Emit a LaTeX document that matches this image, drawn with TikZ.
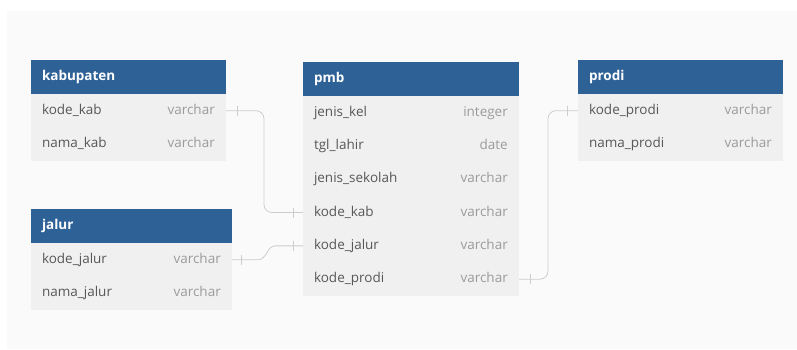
\documentclass[tikz,border=0pt]{standalone}
\usepackage{fontspec}
\setmainfont{Open Sans}
\usepackage{xcolor}
\usepackage{tikz}
\usetikzlibrary{calc,positioning}

\definecolor{headblue}{RGB}{46,98,151}
\definecolor{rowgray}{RGB}{240,240,240}
\definecolor{fieldgray}{RGB}{88,88,88}
\definecolor{typegray}{RGB}{155,155,155}
\definecolor{relgray}{RGB}{205,205,205}
\definecolor{canvas}{RGB}{250,250,250}

\newcommand{\erfont}{\fontsize{13.5}{16}\selectfont}

\tikzset{
    tablehead/.style={fill=headblue, text=white, font=\erfont\bfseries, anchor=north west,
        minimum height=34pt, inner xsep=11pt, inner ysep=0pt, outer sep=0pt, text height=10pt, text depth=3pt,
        text width=#1, align=left},
    field/.style={fill=rowgray, text=fieldgray, font=\erfont,
        minimum height=33.3pt, inner xsep=11pt, inner ysep=0pt, outer sep=0pt, text height=10pt, text depth=3pt,
        text width=#1, align=left},
    fieldtype/.style={text=typegray, font=\erfont, inner sep=0pt, text height=10pt, text depth=3pt},
    rel/.style={draw=relgray, line width=0.8pt},
}

\begin{document}
\begin{tikzpicture}[x=1pt, y=-1pt]
        \useasboundingbox (0,0) rectangle (797,349);
        \fill[canvas] (7,11) rectangle (797,349);

        % kabupaten
        \node [tablehead=173pt] (kab) at (31,60) {kabupaten};
        \node [field=173pt, below=0pt of kab] (kab-kode) {kode\_kab};
        \node [field=173pt, below=0pt of kab-kode] (kab-nama) {nama\_kab};
        \node [fieldtype, left=11pt of kab-kode.east] (kab-kode-t) {varchar};
        \node [fieldtype, left=11pt of kab-nama.east] (kab-nama-t) {varchar};

        % jalur
        \node [tablehead=179pt] (jal) at (31,209) {jalur};
        \node [field=179pt, below=0pt of jal] (jal-kode) {kode\_jalur};
        \node [field=179pt, below=0pt of jal-kode] (jal-nama) {nama\_jalur};
        \node [fieldtype, left=11pt of jal-kode.east] (jal-kode-t) {varchar};
        \node [fieldtype, left=11pt of jal-nama.east] (jal-nama-t) {varchar};

        % pmb
        \node [tablehead=194pt] (pmb) at (303,62) {pmb};
        \node [field=194pt, below=0pt of pmb] (pmb-kel) {jenis\_kel};
        \node [field=194pt, below=0pt of pmb-kel] (pmb-lahir) {tgl\_lahir};
        \node [field=194pt, below=0pt of pmb-lahir] (pmb-sekolah) {jenis\_sekolah};
        \node [field=194pt, below=0pt of pmb-sekolah] (pmb-kab) {kode\_kab};
        \node [field=194pt, below=0pt of pmb-kab] (pmb-jalur) {kode\_jalur};
        \node [field=194pt, below=0pt of pmb-jalur] (pmb-prodi) {kode\_prodi};
        \node [fieldtype, left=11pt of pmb-kel.east] (pmb-kel-t) {integer};
        \node [fieldtype, left=11pt of pmb-lahir.east] (pmb-lahir-t) {date};
        \node [fieldtype, left=11pt of pmb-sekolah.east] (pmb-sekolah-t) {varchar};
        \node [fieldtype, left=11pt of pmb-kab.east] (pmb-kab-t) {varchar};
        \node [fieldtype, left=11pt of pmb-jalur.east] (pmb-jalur-t) {varchar};
        \node [fieldtype, left=11pt of pmb-prodi.east] (pmb-prodi-t) {varchar};

        % prodi
        \node [tablehead=183pt] (prodi) at (578,60) {prodi};
        \node [field=183pt, below=0pt of prodi] (prodi-kode) {kode\_prodi};
        \node [field=183pt, below=0pt of prodi-kode] (prodi-nama) {nama\_prodi};
        \node [fieldtype, left=11pt of prodi-kode.east] (prodi-kode-t) {varchar};
        \node [fieldtype, left=11pt of prodi-nama.east] (prodi-nama-t) {varchar};

        % relations
        \draw [rel, rounded corners=8pt] (kab-kode.east) -- ++(38,0) |- (pmb-kab.west);
        \draw [rel] (jal-kode.east) -- ++(26,0)
            .. controls +(9,0) and ($(pmb-jalur.west)+(-36,0)$) .. ($(pmb-jalur.west)+(-28,0)$) -- (pmb-jalur.west);
        \draw [rel, rounded corners=8pt] (pmb-prodi.east) -- ++(29,0) |- (prodi-kode.west);

        % one-to-one bars
        \draw [rel] ($(kab-kode.east)+(11,-5)$) -- ++(0,10);
        \draw [rel] ($(pmb-kab.west)+(-10,-5)$) -- ++(0,10);
        \draw [rel] ($(jal-kode.east)+(9,-5)$) -- ++(0,10);
        \draw [rel] ($(pmb-jalur.west)+(-10,-5)$) -- ++(0,10);
        \draw [rel] ($(pmb-prodi.east)+(11,-5)$) -- ++(0,10);
        \draw [rel] ($(prodi-kode.west)+(-11,-5)$) -- ++(0,10);
    \end{tikzpicture}
\end{document}
